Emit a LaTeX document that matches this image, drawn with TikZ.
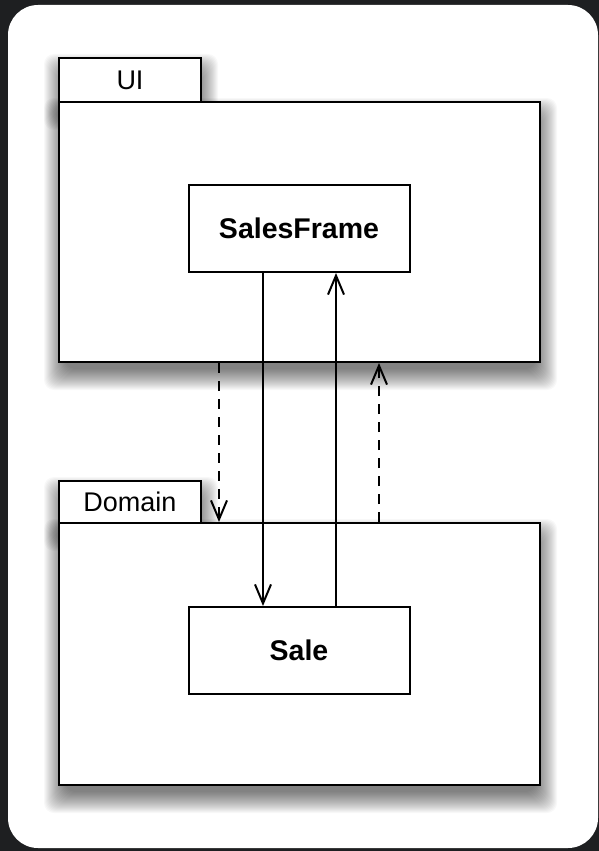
\documentclass[tikz,border=0pt]{standalone}
\usepackage{fontspec}
\setmainfont{Liberation Sans}
\usetikzlibrary{arrows.meta,calc}
\definecolor{bgdark}{RGB}{30,31,33}
\tikzset{
  pkg/.style={draw=black, line width=2pt, fill=white, inner sep=0pt,
    font=\fontsize{27}{29}\selectfont},
  cls/.style={draw=black, line width=2pt, fill=white, inner sep=0pt,
    minimum width=221pt, minimum height=87pt,
    font=\fontsize{28.5}{30}\selectfont\bfseries},
  conn/.style={line width=2pt, -{Straight Barb[length=19pt,width=16pt,line width=2pt]}},
  dep/.style={conn, dash pattern=on 10pt off 8pt},
  shadowlayer/.style={fill=black, opacity=0.026, rounded corners=10pt}
}
\newcommand{\softshadow}[1]{%
  \foreach \r in {-6,...,15}{%
    \fill[shadowlayer] ($(#1.south west)+(1-\r,-12-\r)$) rectangle ($(#1.north east)+(1+\r,-12+\r)$);
  }}
\begin{document}
\begin{tikzpicture}[x=1pt,y=1pt]
\fill[bgdark] (0,0) rectangle (599,-851);
\useasboundingbox (0,0) rectangle (599,-851);
\fill[white, rounded corners=30pt] (8,-5) rectangle (598,-848);
% package frames (positions only, drawn below)
\path (130,-80) node[pkg, draw=none, fill=none, minimum width=142pt, minimum height=44pt] (uitabp) {};
\path (299.5,-232) node[pkg, draw=none, fill=none, minimum width=481pt, minimum height=260pt] (uibodyp) {};
\path (130,-502) node[pkg, draw=none, fill=none, minimum width=142pt, minimum height=42pt] (domtabp) {};
\path (299.5,-654) node[pkg, draw=none, fill=none, minimum width=481pt, minimum height=262pt] (dombodyp) {};
\softshadow{uitabp}
\softshadow{uibodyp}
\softshadow{domtabp}
\softshadow{dombodyp}
% UI package
\node[pkg, minimum width=142pt, minimum height=44pt] (uitab) at (uitabp) {UI};
\node[pkg, minimum width=481pt, minimum height=260pt] (uibody) at (uibodyp) {};
% Domain package
\node[pkg, minimum width=142pt, minimum height=42pt] (domtab) at (domtabp) {Domain};
\node[pkg, minimum width=481pt, minimum height=262pt] (dombody) at (dombodyp) {};
% classes
\node[cls] (sf) at (299,-228.5) {SalesFrame};
\node[cls] (sale) at (299,-650.5) {Sale};
% connectors
\draw[conn] ([xshift=-36pt]sf.south) -- ([xshift=-36pt]sale.north);
\draw[conn] ([xshift=37pt]sale.north) -- ([xshift=37pt]sf.south);
\draw[dep] ([xshift=-80.5pt]uibody.south) -- ([xshift=-80.5pt]dombody.north);
\draw[dep] ([xshift=79.5pt]dombody.north) -- ([xshift=79.5pt]uibody.south);
\end{tikzpicture}
\end{document}
